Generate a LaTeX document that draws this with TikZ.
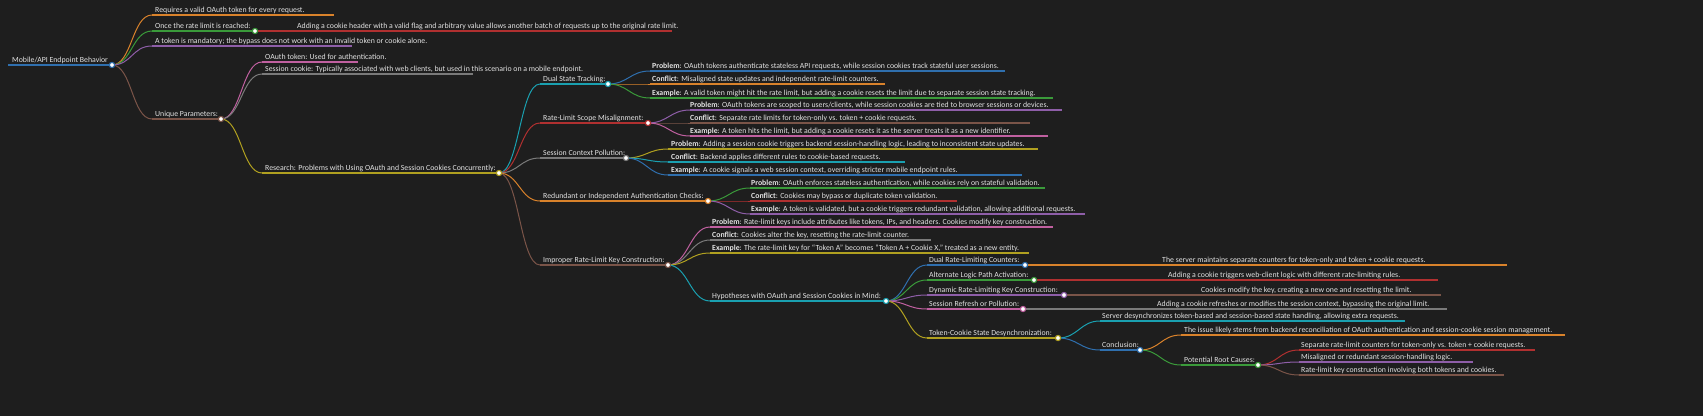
\documentclass[tikz,border=0pt]{standalone}
\usepackage{fontspec}
\setmainfont{Carlito}
\definecolor{bg}{HTML}{1E1E1E}
\definecolor{tx}{HTML}{E2E2E2}
\definecolor{cor}{HTML}{D9822B}
\definecolor{cgr}{HTML}{3A9A3A}
\definecolor{cpu}{HTML}{8E5EA8}
\definecolor{cbr}{HTML}{7A5448}
\definecolor{cpk}{HTML}{C060A0}
\definecolor{cgy}{HTML}{7A7A7A}
\definecolor{col}{HTML}{B0A020}
\definecolor{ctl}{HTML}{1AA0B0}
\definecolor{cbl}{HTML}{2F6FAE}
\definecolor{crd}{HTML}{B03030}
\tikzset{
 uline/.style={line width=1.4pt},
 link/.style={line width=1pt},
 lbl/.style={anchor=base west,inner sep=0pt,text=tx,font=\fontsize{7.8}{9}\selectfont,yshift=2.6pt},
 mdot/.style={line width=1.1pt}
}
\newcommand\mmnode[7]{\coordinate (#1-l) at (#2,#4); \coordinate (#1-r) at (#3,#4);
 \draw[uline,#5] (#1-l) -- (#1-r); \node[lbl] (#1) at (#6,#4) {#7};}
\newcommand\mmlink[3]{\draw[link,#3] (#1-r) .. controls +(20,0) and +(-20,0) .. (#2-l);}
\newcommand\mmdot[2]{\draw[mdot,#2,fill=white] (#1-r) circle (2.6);}
\begin{document}
\begin{tikzpicture}[x=1pt,y=-1pt]
\fill[bg] (0,0) rectangle (1703,416);
\useasboundingbox (0,0) rectangle (1703,416);
% nodes
\mmnode{root}{8}{112}{65}{cbl,line width=2.2pt}{12}{Mobile/API Endpoint Behavior}
\mmnode{a1}{152}{334}{15}{cor}{155}{Requires a valid OAuth token for every request.}
\mmnode{a2}{152}{255}{31}{cgr}{155}{Once the rate limit is reached:}
\mmnode{a2c}{255}{672}{31}{crd}{297}{Adding a cookie header with a valid flag and arbitrary value allows another batch of requests up to the original rate limit.}
\mmnode{a3}{152}{352}{46}{cpu}{155}{A token is mandatory; the bypass does not work with an invalid token or cookie alone.}
\mmnode{up}{152}{221}{119}{cbr}{155}{Unique Parameters:}
\mmnode{u1}{262}{358}{62}{cpk}{265}{OAuth token: Used for authentication.}
\mmnode{u2}{262}{473}{74}{cgy}{265}{Session cookie: Typically associated with web clients, but used in this scenario on a mobile endpoint.}
\mmnode{rs}{262}{499}{173}{col}{265}{Research: Problems with Using OAuth and Session Cookies Concurrently:}
\mmnode{ds}{540}{608}{84}{ctl}{543}{Dual State Tracking:}
\mmnode{ds1}{650}{1005}{71}{cbl}{652}{\textbf{Problem}: OAuth tokens authenticate stateless API requests, while session cookies track stateful user sessions.}
\mmnode{ds2}{650}{885}{84}{cor}{652}{\textbf{Conflict}: Misaligned state updates and independent rate-limit counters.}
\mmnode{ds3}{650}{1053}{98}{cgr}{652}{\textbf{Example}: A valid token might hit the rate limit, but adding a cookie resets the limit due to separate session state tracking.}
\mmnode{rl}{540}{648}{123}{crd}{543}{Rate-Limit Scope Misalignment:}
\mmnode{rl1}{690}{1062}{110}{cpu}{690}{\textbf{Problem}: OAuth tokens are scoped to users/clients, while session cookies are tied to browser sessions or devices.}
\mmnode{rl2}{690}{1030}{123}{cbr}{690}{\textbf{Conflict}: Separate rate limits for token-only vs. token + cookie requests.}
\mmnode{rl3}{690}{1048}{136}{cpk}{690}{\textbf{Example}: A token hits the limit, but adding a cookie resets it as the server treats it as a new identifier.}
\mmnode{sc}{540}{626}{158}{cgy}{543}{Session Context Pollution:}
\mmnode{sc1}{668}{1038}{149}{col}{671}{\textbf{Problem}: Adding a session cookie triggers backend session-handling logic, leading to inconsistent state updates.}
\mmnode{sc2}{668}{905}{162}{ctl}{671}{\textbf{Conflict}: Backend applies different rules to cookie-based requests.}
\mmnode{sc3}{668}{1022}{175}{cbl}{671}{\textbf{Example}: A cookie signals a web session context, overriding stricter mobile endpoint rules.}
\mmnode{rd}{540}{708}{201}{cor}{543}{Redundant or Independent Authentication Checks:}
\mmnode{rd1}{750}{1045}{188}{cgr}{751}{\textbf{Problem}: OAuth enforces stateless authentication, while cookies rely on stateful validation.}
\mmnode{rd2}{750}{957}{201}{crd}{751}{\textbf{Conflict}: Cookies may bypass or duplicate token validation.}
\mmnode{rd3}{750}{1085}{214}{cpu}{751}{\textbf{Example}: A token is validated, but a cookie triggers redundant validation, allowing additional requests.}
\mmnode{ir}{540}{668}{265}{cbr}{543}{Improper Rate-Limit Key Construction:}
\mmnode{ir1}{710}{1053}{227}{cpk}{712}{\textbf{Problem}: Rate-limit keys include attributes like tokens, IPs, and headers. Cookies modify key construction.}
\mmnode{ir2}{710}{931}{240}{cgy}{712}{\textbf{Conflict}: Cookies alter the key, resetting the rate-limit counter.}
\mmnode{ir3}{710}{1029}{253}{col}{712}{\textbf{Example}: The rate-limit key for ``Token A'' becomes ``Token A + Cookie X,'' treated as a new entity.}
\mmnode{hy}{710}{886}{301}{ctl}{712}{Hypotheses with OAuth and Session Cookies in Mind:}
\mmnode{h1}{927}{1025}{265}{cbl}{929}{Dual Rate-Limiting Counters:}
\mmnode{h1c}{1025}{1507}{265}{cor}{1162}{The server maintains separate counters for token-only and token + cookie requests.}
\mmnode{h2}{927}{1034}{280}{cgr}{929}{Alternate Logic Path Activation:}
\mmnode{h2c}{1034}{1438}{280}{crd}{1168}{Adding a cookie triggers web-client logic with different rate-limiting rules.}
\mmnode{h3}{927}{1064}{295}{cpu}{929}{Dynamic Rate-Limiting Key Construction:}
\mmnode{h3c}{1064}{1441}{295}{cbr}{1201}{Cookies modify the key, creating a new one and resetting the limit.}
\mmnode{h4}{927}{1023}{309}{cpk}{929}{Session Refresh or Pollution:}
\mmnode{h4c}{1023}{1447}{309}{cgy}{1157}{Adding a cookie refreshes or modifies the session context, bypassing the original limit.}
\mmnode{h5}{927}{1058}{338}{col}{929}{Token-Cookie State Desynchronization:}
\mmnode{t1}{1100}{1405}{321}{ctl}{1102}{Server desynchronizes token-based and session-based state handling, allowing extra requests.}
\mmnode{cn}{1100}{1140}{350}{cbl}{1102}{Conclusion:}
\mmnode{c1}{1181}{1565}{335}{cor}{1184}{The issue likely stems from backend reconciliation of OAuth authentication and session-cookie session management.}
\mmnode{pr}{1181}{1258}{365}{cgr}{1184}{Potential Root Causes:}
\mmnode{p1}{1299}{1535}{350}{crd}{1301}{Separate rate-limit counters for token-only vs. token + cookie requests.}
\mmnode{p2}{1299}{1473}{362}{cpu}{1301}{Misaligned or redundant session-handling logic.}
\mmnode{p3}{1299}{1504}{375}{cbr}{1301}{Rate-limit key construction involving both tokens and cookies.}
% links
\mmlink{root}{a1}{cor}\mmlink{root}{a2}{cgr}\mmlink{root}{a3}{cpu}\mmlink{root}{up}{cbr}
\mmlink{up}{u1}{cpk}\mmlink{up}{u2}{cgy}\mmlink{up}{rs}{col}
\mmlink{rs}{ds}{ctl}\mmlink{rs}{rl}{crd}\mmlink{rs}{sc}{cgy}\mmlink{rs}{rd}{cor}\mmlink{rs}{ir}{cbr}
\mmlink{ds}{ds1}{cbl}\mmlink{ds}{ds2}{cor}\mmlink{ds}{ds3}{cgr}
\mmlink{rl}{rl1}{cpu}\mmlink{rl}{rl2}{cbr}\mmlink{rl}{rl3}{cpk}
\mmlink{sc}{sc1}{col}\mmlink{sc}{sc2}{ctl}\mmlink{sc}{sc3}{cbl}
\mmlink{rd}{rd1}{cgr}\mmlink{rd}{rd2}{crd}\mmlink{rd}{rd3}{cpu}
\mmlink{ir}{ir1}{cpk}\mmlink{ir}{ir2}{cgy}\mmlink{ir}{ir3}{col}\mmlink{ir}{hy}{ctl}
\mmlink{hy}{h1}{cbl}\mmlink{hy}{h2}{cgr}\mmlink{hy}{h3}{cpu}\mmlink{hy}{h4}{cpk}\mmlink{hy}{h5}{col}
\mmlink{h5}{t1}{ctl}\mmlink{h5}{cn}{cbl}
\mmlink{cn}{c1}{cor}\mmlink{cn}{pr}{cgr}
\mmlink{pr}{p1}{crd}\mmlink{pr}{p2}{cpu}\mmlink{pr}{p3}{cbr}
% dots
\mmdot{root}{cbl}\mmdot{a2}{cgr}\mmdot{up}{cbr}\mmdot{rs}{col}
\mmdot{ds}{ctl}\mmdot{rl}{crd}\mmdot{sc}{cgy}\mmdot{rd}{cor}\mmdot{ir}{cbr}\mmdot{hy}{ctl}
\mmdot{h1}{cbl}\mmdot{h2}{cgr}\mmdot{h3}{cpu}\mmdot{h4}{cpk}\mmdot{h5}{col}\mmdot{cn}{cbl}\mmdot{pr}{cgr}
\end{tikzpicture}
\end{document}
